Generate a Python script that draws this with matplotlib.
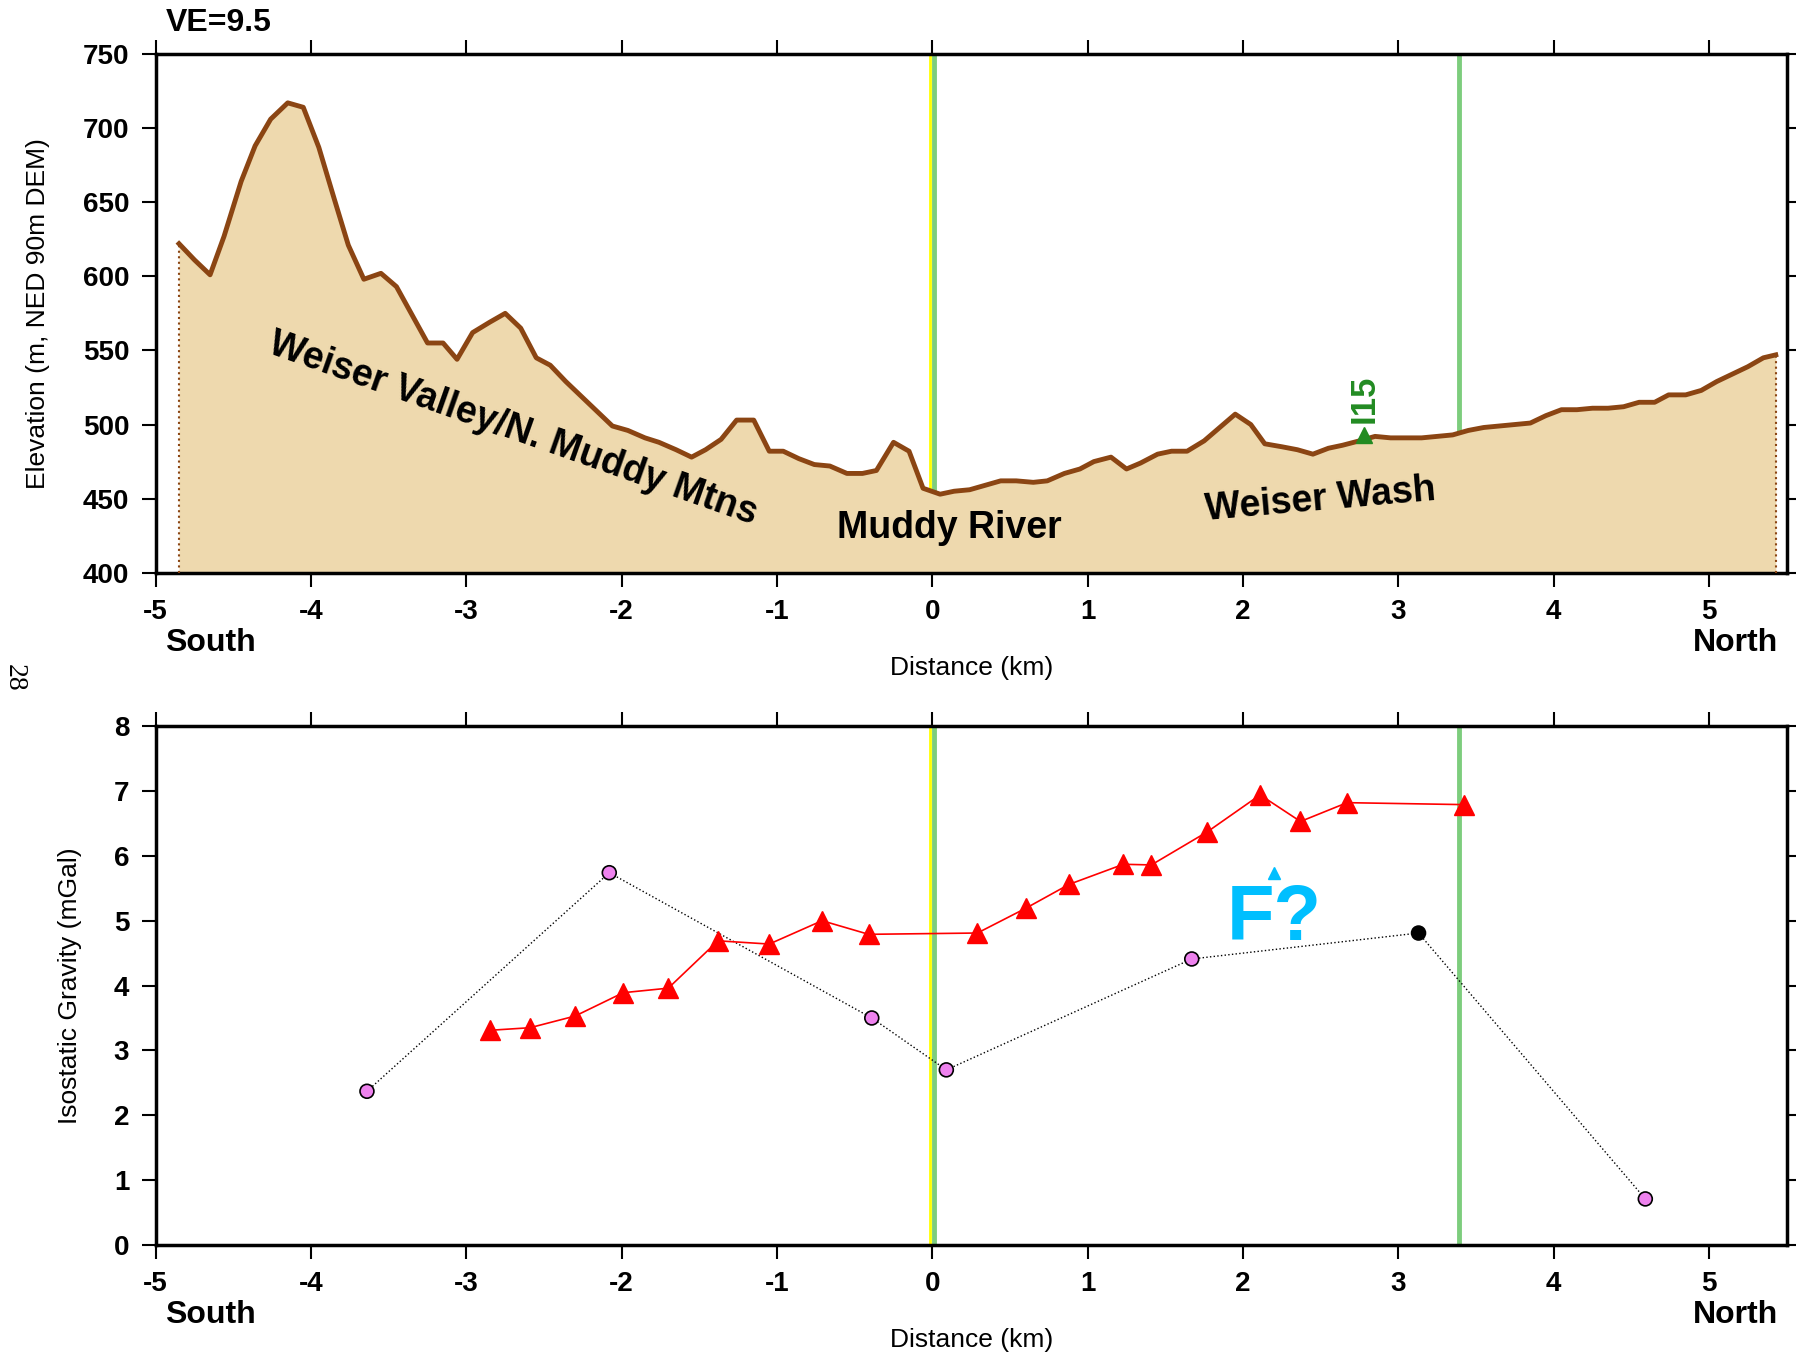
import matplotlib
matplotlib.use("Agg")
import matplotlib.pyplot as plt

plt.rcParams['font.family'] = ['Liberation Sans', 'DejaVu Sans']
plt.rcParams['axes.unicode_minus'] = False

# elevation profile (km along profile, m)
dist_km = [-4.85, -4.75, -4.65, -4.56, -4.45, -4.36, -4.26, -4.15, -4.05, -3.95,
           -3.85, -3.76, -3.66, -3.55, -3.45, -3.35, -3.25, -3.15, -3.06, -2.96,
           -2.85, -2.75, -2.65, -2.55, -2.46, -2.36, -2.26, -2.16, -2.06, -1.96,
           -1.85, -1.76, -1.65, -1.55, -1.46, -1.36, -1.26, -1.15, -1.05, -0.96,
           -0.86, -0.76, -0.66, -0.55, -0.45, -0.36, -0.25, -0.15, -0.06, 0.05,
           0.14, 0.24, 0.34, 0.44, 0.54, 0.65, 0.74, 0.85, 0.95, 1.04,
           1.15, 1.25, 1.34, 1.45, 1.54, 1.64, 1.75, 1.85, 1.95, 2.05,
           2.14, 2.25, 2.35, 2.45, 2.55, 2.64, 2.75, 2.85, 2.95, 3.05,
           3.15, 3.25, 3.35, 3.45, 3.55, 3.65, 3.75, 3.85, 3.95, 4.05,
           4.15, 4.25, 4.35, 4.45, 4.55, 4.65, 4.74, 4.85, 4.95, 5.05,
           5.15, 5.25, 5.35, 5.43]
elev_m = [622, 611, 601, 627, 664, 688, 706, 717, 714, 687,
          652, 621, 598, 602, 593, 574, 555, 555, 544, 562,
          569, 575, 565, 545, 540, 529, 519, 509, 499, 496,
          491, 488, 483, 478, 483, 490, 503, 503, 482, 482,
          477, 473, 472, 467, 467, 469, 488, 482, 457, 453,
          455, 456, 459, 462, 462, 461, 462, 467, 470, 475,
          478, 470, 474, 480, 482, 482, 489, 498, 507, 500,
          487, 485, 483, 480, 484, 486, 489, 492, 491, 491,
          491, 492, 493, 496, 498, 499, 500, 501, 506, 510,
          510, 511, 511, 512, 515, 515, 520, 520, 523, 529,
          534, 539, 545, 547]

# gravity stations
tri_km = [-2.85, -2.59, -2.30, -1.99, -1.70, -1.38, -1.05, -0.71, -0.41, 0.29,
          0.60, 0.88, 1.23, 1.41, 1.77, 2.11, 2.37, 2.67, 3.42]
tri_mgal = [3.31, 3.35, 3.53, 3.89, 3.96, 4.69, 4.64, 5.00, 4.79, 4.81,
            5.19, 5.56, 5.87, 5.86, 6.37, 6.94, 6.53, 6.82, 6.79]
circ_km = [-3.64, -2.08, -0.39, 0.09, 1.67, 3.13, 4.59]
circ_mgal = [2.37, 5.74, 3.50, 2.70, 4.41, 4.81, 0.71]
circ_col = ['violet', 'violet', 'violet', 'violet', 'violet', 'black', 'violet']

river_km = 0.0
green_km = 3.39
i15_km, i15_m = 2.78, 493
fault_km, fault_mgal = 2.20, 5.74

brown = '#8b4513'
tan = '#eed9ae'
lgreen = '#7dcd7d'

fig = plt.figure(figsize=(17.96, 13.55), dpi=100)
ax1 = fig.add_axes([0.0867, 0.5773, 0.9081, 0.3829])
ax2 = fig.add_axes([0.0867, 0.0812, 0.9081, 0.3829])


def style(ax, yticks):
    ax.set_xlim(-5, 5.5)
    ax.set_xticks(range(-5, 6))
    ax.set_xticklabels([str(v) for v in range(-5, 6)], fontweight='bold')
    ax.set_yticks(yticks)
    ax.set_yticklabels([str(v) for v in yticks], fontweight='bold')
    ax.tick_params(direction='out', length=10, width=1.5, top=True, right=True,
                   labelsize=20, pad=9)
    for s in ax.spines.values():
        s.set_linewidth(2.5)
    ax.text(0.006, -0.135, 'South', transform=ax.transAxes, fontsize=23,
            fontweight='bold', ha='left', va='center')
    ax.text(0.995, -0.135, 'North', transform=ax.transAxes, fontsize=23,
            fontweight='bold', ha='right', va='center')
    ax.text(0.5, -0.183, 'Distance (km)', transform=ax.transAxes, fontsize=19,
            ha='center', va='center')


# ---- top: topography
ax1.set_ylim(400, 750)
ax1.vlines([river_km - 0.012], 400, 750, color='yellow', lw=2, zorder=1)
ax1.vlines([river_km + 0.01, green_km], 400, 750, color=lgreen, lw=3.5, zorder=1)
ax1.fill_between(dist_km, elev_m, 400, color=tan, lw=0, zorder=2)
ax1.plot(dist_km, elev_m, color=brown, lw=3.5, zorder=3)
ax1.vlines([dist_km[0], dist_km[-1]], 400, [elev_m[0], elev_m[-1]],
           color=brown, linestyles=':', lw=1.5, zorder=3)
ax1.plot([i15_km], [i15_m], marker='^', color='#228b22', ms=12, zorder=4)
ax1.text(i15_km, 501, 'I15', rotation=90, color='#228b22', fontsize=25,
         fontweight='bold', ha='center', va='bottom')
ax1.text(-2.7, 497, 'Weiser Valley/N. Muddy Mtns', rotation=-19.5, fontsize=27,
         fontweight='bold', ha='center', va='center', zorder=4)
ax1.text(0.11, 430, 'Muddy River', fontsize=27, fontweight='bold',
         ha='center', va='center', zorder=4)
ax1.text(2.5, 449, 'Weiser Wash', rotation=5, fontsize=27, fontweight='bold',
         ha='center', va='center', zorder=4)
ax1.set_ylabel('Elevation (m, NED 90m DEM)', fontsize=19)
ax1.yaxis.set_label_coords(-0.065, 0.5)
style(ax1, list(range(400, 751, 50)))
fig.text(0.0924, 0.983, 'VE=9.5', fontsize=23, fontweight='bold',
         ha='left', va='center')

# ---- bottom: gravity
ax2.set_ylim(0, 8)
ax2.axvline(river_km - 0.012, color='yellow', lw=2, zorder=1)
ax2.axvline(river_km + 0.01, color=lgreen, lw=3.5, zorder=1)
ax2.axvline(green_km, color=lgreen, lw=3.5, zorder=1)
ax2.plot(circ_km, circ_mgal, color='black', ls=':', lw=1, zorder=2)
ax2.scatter(circ_km, circ_mgal, s=100, c=circ_col, edgecolors='black',
            linewidths=1.2, zorder=3)
ax2.plot(tri_km, tri_mgal, color='red', lw=1.2, marker='^', ms=14, zorder=4)
ax2.plot([fault_km], [fault_mgal], marker='^', color='deepskyblue', ms=8, zorder=4)
ax2.text(fault_km, 5.02, 'F?', color='deepskyblue', fontsize=56,
         fontweight='bold', ha='center', va='center', zorder=4)
ax2.set_ylabel('Isostatic Gravity (mGal)', fontsize=19)
ax2.yaxis.set_label_coords(-0.045, 0.5)
style(ax2, list(range(0, 9)))

fig.text(0.008, 0.5, '28', rotation=-90, fontsize=20, family='Liberation Serif',
         ha='center', va='center')

fig.savefig('out.png', dpi=100)
